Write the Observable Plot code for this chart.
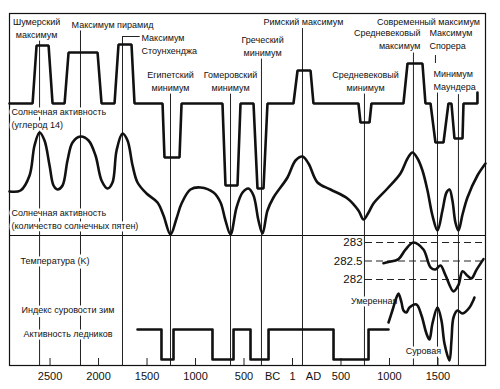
<!DOCTYPE html>
<html><head><meta charset="utf-8">
<script src="https://cdn.jsdelivr.net/npm/d3@7"></script>
<script src="https://cdn.jsdelivr.net/npm/@observablehq/plot@0.6"></script>
<style>
body{margin:0;background:#fff;}
#chart{position:relative;width:500px;height:389px;}
#chart svg{position:absolute;left:0;top:0;}
</style></head><body><div id="chart"></div>
<script>
// ---- x axis (years; negative = BC) ----
const tickYears  = [-2500, -2000, -1500, -1000, -500, 0, 500, 1000, 1500];
const tickLabels = ["2500", "2000", "1500", "1000", "500", "1", "500", "1000", "1500"];
const eraYears   = [-206, 216];
const eraLabels  = ["BC", "AD"];

// ---- Solar activity (carbon 14), relative level, 0 = normal ----
const c14Years  = [-2918,-2680,-2639,-2515,-2474,-2350,-2309,-2010,-1969,-1835,-1794,-1660,-1629,-1340,-1320,-1165,-1144,-722,-691,-567,-536,-402,-361,-299,-258,10,52,186,216,680,701,794,814,1144,1186,1340,1371,1423,1474,1557,1608,1639,1670,1753,1763,1907,1907];
const c14Levels = [0,0,58,58,0,0,51,51,0,0,59,59,0,0,-54,-54,0,0,-82,-82,0,0,-85,-85,0,0,33,33,0,0,-19,-19,0,0,40,40,0,0,-39,-39,0,0,-35,-35,0,0,11];

// ---- Solar activity (sunspot number), relative ----
const spotYears  = [-2918,-2804,-2711,-2660,-2608,-2557,-2505,-2464,-2423,-2371,-2320,-2268,-2186,-2103,-2031,-1969,-1907,-1856,-1814,-1753,-1701,-1649,-1598,-1505,-1392,-1330,-1258,-1196,-1144,-1052,-948,-814,-742,-691,-639,-577,-515,-454,-402,-351,-309,-258,-196,-52,31,103,165,258,392,567,680,732,784,835,979,1113,1186,1237,1289,1340,1392,1443,1495,1546,1588,1619,1649,1680,1711,1753,1804,1907,1990];
const spotLevels = [43,44,59,89,102,94,69,49,45,49,74,92,98,94,79,54,46,52,84,101,94,69,52,41,32,19,0,16,31,45,47,42,32,14,0,27,42,46,39,14,1,24,37,57,74,78,71,52,45,36,24,15,22,31,46,61,76,82,76,64,44,19,4,24,42,45,34,12,4,20,37,59,71];

// ---- Temperature (K) ----
const tempYears = [938, 990, 1093, 1165, 1247, 1350, 1423, 1474, 1526, 1577, 1660, 1711, 1753, 1804, 1845, 1897, 1969];
const tempK     = [282.44, 282.47, 282.55, 282.81, 283.0, 282.81, 282.33, 282.27, 282.38, 282.12, 281.68, 281.85, 282.22, 282.1, 282.03, 282.26, 282.55];
const tempTicks = [283, 282.5, 282];
const tempTickLabels = ["283", "282.5", "282"];

// ---- Winter severity index (high = mild, low = severe) ----
const sevYears  = [990, 1030, 1072, 1093, 1124, 1144, 1175, 1206, 1278, 1330, 1381, 1412, 1443, 1495, 1536, 1567, 1619, 1639, 1660, 1701, 1753, 1825, 1876];
const sevIndex  = [38, 50, 63, 67, 58, 50, 48, 53, 56, 45, 27, 21, 37, 53, 40, 17, 0, 20, 43, 50, 47, 53, 63];

// ---- Glacier activity (1 = low activity level, 0 = advance) ----
const glacYears = [-1598, -1351, -1227, -825, -608, -433, -247, 423, 784, 990];
const glacLevel = [1, 0, 1, 0, 1, 0, 1, 0, 1, 1];

// ---- Event guides ----
const guideYears = [-2608, -2186, -1753, -1258, -639, -320, 103, 742, 1247, 1495, 1711];
const guideTops  = [36, 30, 36, 93, 93, 57, 28, 93, 50, 92, 92];

// ---- Labels ----
const labelText = ["Шумерский\nмаксимум", "Максимум пирамид", "Максимум\nСтоунхенджа", "Египетский\nминимум", "Гомеровский\nминимум", "Греческий\nминимум", "Римский максимум", "Средневековый\nминимум", "Современный максимум", "Средневековый\nмаксимум", "Максимум\nСпорера", "Минимум\nМаундера", "Солнечная активность\n(углерод 14)", "Солнечная активность\n(количество солнечных пятен)", "Температура (K)", "Индекс суровости зим", "Активность ледников", "Умеренная", "Суровая"];
const labelYear = [-2639, -1856, -1557, -1258, -639, -309, 113, 753, 1402, 1320, 1412, 1454, -2897, -2897, -2804, -2794, -2773, 1082, 1350];
const labelRow  = [26.5, 23, 43, 80, 80, 44.5, 20, 80, 20, 38, 38, 78.5, 117, 218, 259, 308, 332, 299, 349];
const labelAnchor = ["middle","middle","start","middle","middle","middle","middle","middle","middle","end","start","start","start","start","start","start","start","end","middle"];

const FONT = '"Liberation Sans", Arial, sans-serif';

const common = {
  width: 500, height: 389,
  marginLeft: 9, marginRight: 15, marginTop: 13, marginBottom: 24,
  x: {domain: [-2918, 1990], axis: null},
};
const overlayStyle = {background: "transparent", overflow: "visible"};

const labels = labelText.map((t, i) => ({t, x: labelYear[i], y: labelRow[i], a: labelAnchor[i]}));
const guides = guideYears.map((x, i) => ({x, top: guideTops[i]}));
const labelMark = anchor => Plot.text(labels.filter(d => d.a === anchor), {
  x: "x", y: "y", text: "t", textAnchor: anchor, fontSize: 9, lineHeight: 1.45,
  fontFamily: FONT, fill: "#111", stroke: "white", strokeWidth: 5
});

const base = Plot.plot({
  ...common,
  y: {domain: [365, 13], axis: null},
  style: {background: "white", overflow: "visible"},
  marks: [
    Plot.frame({stroke: "#111", strokeWidth: 1.2}),
    Plot.ruleY([235], {stroke: "#111", strokeWidth: 1.2}),
    Plot.ruleX(guides, {x: "x", y1: "top", y2: 365, stroke: "#222", strokeWidth: 1}),
    Plot.ruleY([36], {x1: -1753, x2: -1567, stroke: "#222", strokeWidth: 1}),
    Plot.ruleX([1474], {y1: 55, y2: 63, stroke: "#222", strokeWidth: 1}),
    Plot.ruleX(tickYears, {y1: 358, y2: 365, stroke: "#222", strokeWidth: 1}),
    Plot.text(tickYears, {x: d => d, y: 376, text: (d, i) => tickLabels[i], fontSize: 11, fontFamily: FONT, fill: "#111"}),
    Plot.text(eraYears, {x: d => d, y: 376, text: (d, i) => eraLabels[i], fontSize: 11, fontFamily: FONT, fill: "#111"}),
    labelMark("start"),
    labelMark("middle"),
    labelMark("end")
  ]
});

const c14 = Plot.plot({
  ...common,
  y: {domain: [-90, 60], range: [193, 43], axis: null},
  style: overlayStyle,
  marks: [Plot.line(c14Years, {x: d => d, y: (d, i) => c14Levels[i], stroke: "#111", strokeWidth: 2.6, strokeLinejoin: "miter"})]
});

const spots = Plot.plot({
  ...common,
  y: {domain: [0, 102], range: [234, 132], axis: null},
  style: overlayStyle,
  marks: [Plot.line(spotYears, {x: d => d, y: (d, i) => spotLevels[i], curve: "catmull-rom", stroke: "#111", strokeWidth: 2.6})]
});

const temp = Plot.plot({
  ...common,
  y: {domain: [282, 283], range: [279, 242], axis: null},
  style: overlayStyle,
  marks: [
    Plot.ruleY(tempTicks, {x1: 753, x2: 1990, stroke: "#222", strokeWidth: 1, strokeDasharray: "7,4"}),
    Plot.text(tempTicks, {x: 722, y: d => d, text: (d, i) => tempTickLabels[i], textAnchor: "end", fontSize: 11.5, fontFamily: FONT, fill: "#111"}),
    Plot.line(tempYears, {x: d => d, y: (d, i) => tempK[i], curve: "catmull-rom", stroke: "#111", strokeWidth: 2.6})
  ]
});

const sev = Plot.plot({
  ...common,
  y: {domain: [0, 70], range: [360, 290], axis: null},
  style: overlayStyle,
  marks: [Plot.line(sevYears, {x: d => d, y: (d, i) => sevIndex[i], curve: "catmull-rom", stroke: "#111", strokeWidth: 2.6})]
});

const glac = Plot.plot({
  ...common,
  y: {domain: [0, 1], range: [359, 329], axis: null},
  style: overlayStyle,
  marks: [Plot.line(glacYears, {x: d => d, y: (d, i) => glacLevel[i], curve: "step-after", stroke: "#111", strokeWidth: 2.6})]
});

const el = document.getElementById("chart");
[base, c14, spots, temp, sev, glac].forEach(p => el.appendChild(p));
</script>
</body></html>
